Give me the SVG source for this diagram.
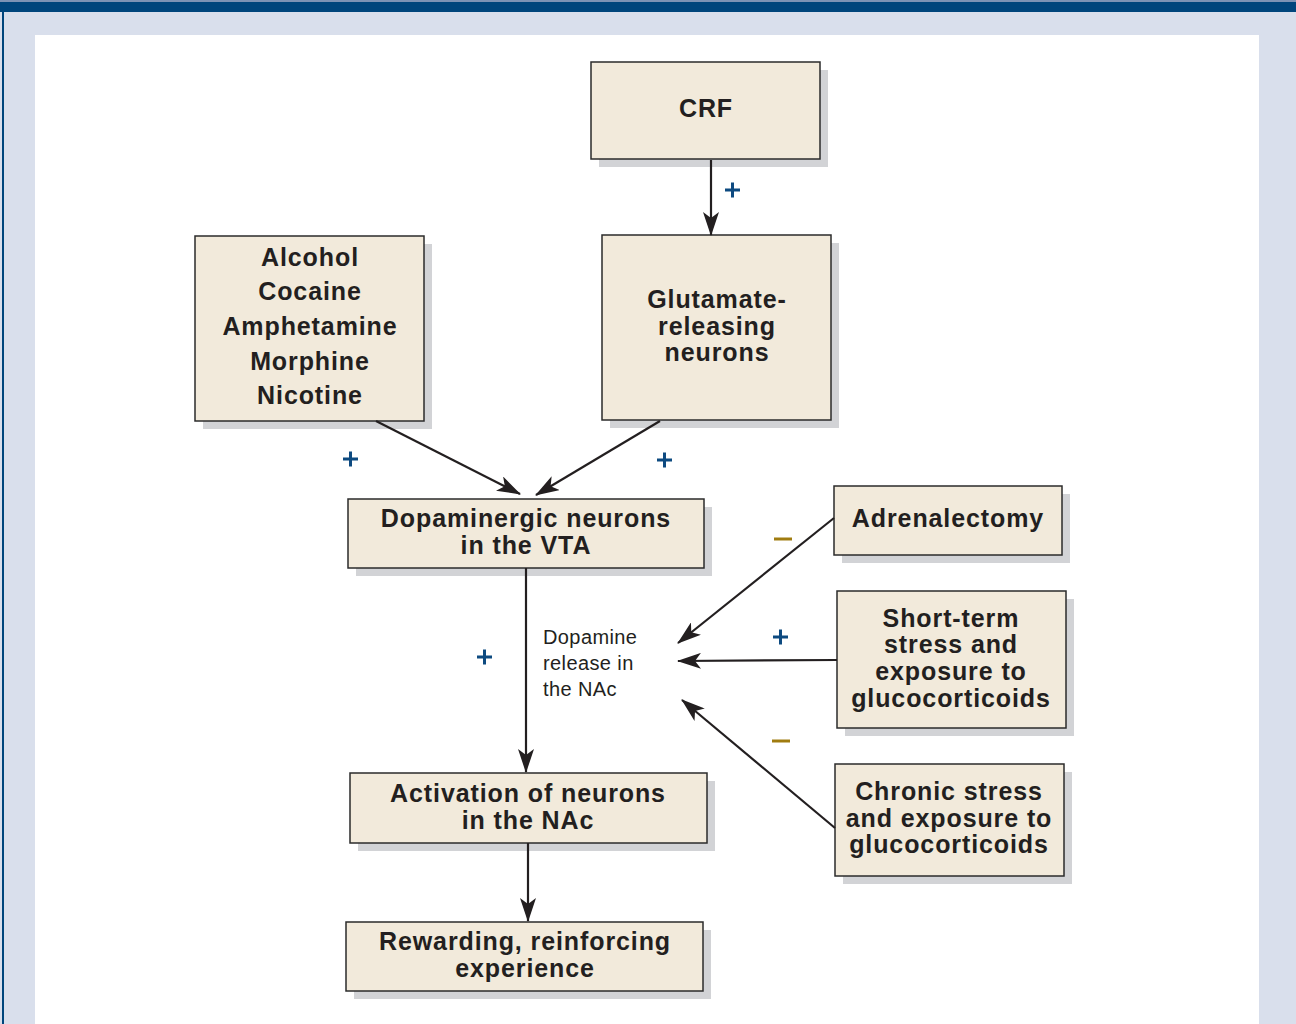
<svg xmlns="http://www.w3.org/2000/svg" width="1296" height="1024" viewBox="0 0 1296 1024">
<defs>
<style>
.box{fill:#f2eadb;stroke:#2b2b2b;stroke-width:1.5}
.sh{fill:#d2d3d6}
.t{font-family:"Liberation Sans",Arial,sans-serif;font-weight:bold;font-size:25px;letter-spacing:0.9px;fill:#231f20;text-anchor:middle}
.n{font-family:"Liberation Sans",Arial,sans-serif;font-size:20px;letter-spacing:0.4px;fill:#231f20}
.ln{stroke:#231f20;stroke-width:2.2;fill:none;marker-end:url(#ah)}
.plus{stroke:#0d4a80;stroke-width:3}
.minus{stroke:#a07c10;stroke-width:3}
</style>
<marker id="ah" markerUnits="userSpaceOnUse" markerWidth="24" markerHeight="16" viewBox="0 0 24 16" refX="23" refY="8" orient="auto">
<path d="M0,0 L24,8 L0,16 L6,8 z" fill="#231f20"/>
</marker>
</defs>
<rect x="0" y="0" width="1296" height="1024" fill="#d9dfec"/>
<rect x="0" y="0" width="1296" height="3" fill="#7d93b5"/>
<rect x="0" y="2" width="1296" height="10" fill="#00457c"/>
<rect x="2" y="2" width="2" height="1022" fill="#00457c"/>
<rect x="35" y="35" width="1224" height="989" fill="#ffffff"/>

<g id="crf">
<rect class="sh" x="599" y="70" width="229" height="97"/>
<rect class="box" x="591" y="62" width="229" height="97"/>
<text class="t" x="706" y="117">CRF</text>
</g>

<g id="drugs">
<rect class="sh" x="203" y="244" width="229" height="185"/>
<rect class="box" x="195" y="236" width="229" height="185"/>
<text class="t" x="310" y="266">Alcohol</text>
<text class="t" x="310" y="300">Cocaine</text>
<text class="t" x="310" y="335">Amphetamine</text>
<text class="t" x="310" y="370">Morphine</text>
<text class="t" x="310" y="404">Nicotine</text>
</g>

<g id="glutamate">
<rect class="sh" x="610" y="243" width="229" height="185"/>
<rect class="box" x="602" y="235" width="229" height="185"/>
<text class="t" x="717" y="308">Glutamate-</text>
<text class="t" x="717" y="335">releasing</text>
<text class="t" x="717" y="361">neurons</text>
</g>

<g id="vta">
<rect class="sh" x="356" y="507" width="356" height="69"/>
<rect class="box" x="348" y="499" width="356" height="69"/>
<text class="t" x="526" y="527">Dopaminergic neurons</text>
<text class="t" x="526" y="554">in the VTA</text>
</g>

<g id="adrenalectomy">
<rect class="sh" x="842" y="494" width="228" height="69"/>
<rect class="box" x="834" y="486" width="228" height="69"/>
<text class="t" x="948" y="527">Adrenalectomy</text>
</g>

<g id="shortterm">
<rect class="sh" x="845" y="599" width="229" height="137"/>
<rect class="box" x="837" y="591" width="229" height="137"/>
<text class="t" x="951" y="627">Short-term</text>
<text class="t" x="951" y="653">stress and</text>
<text class="t" x="951" y="680">exposure to</text>
<text class="t" x="951" y="707">glucocorticoids</text>
</g>

<g id="chronic">
<rect class="sh" x="843" y="772" width="229" height="112"/>
<rect class="box" x="835" y="764" width="229" height="112"/>
<text class="t" x="949" y="800">Chronic stress</text>
<text class="t" x="949" y="827">and exposure to</text>
<text class="t" x="949" y="853">glucocorticoids</text>
</g>

<g id="activation">
<rect class="sh" x="358" y="781" width="357" height="70"/>
<rect class="box" x="350" y="773" width="357" height="70"/>
<text class="t" x="528" y="802">Activation of neurons</text>
<text class="t" x="528" y="829">in the NAc</text>
</g>

<g id="rewarding">
<rect class="sh" x="354" y="930" width="357" height="69"/>
<rect class="box" x="346" y="922" width="357" height="69"/>
<text class="t" x="525" y="950">Rewarding, reinforcing</text>
<text class="t" x="525" y="977">experience</text>
</g>

<g id="connectors">
<line class="ln" x1="711" y1="160" x2="711" y2="235"/>
<line class="ln" x1="376" y1="421" x2="520" y2="494"/>
<line class="ln" x1="660" y1="421" x2="536" y2="495"/>
<line class="ln" x1="526" y1="568" x2="526" y2="772"/>
<line class="ln" x1="528" y1="843" x2="528" y2="921"/>
<line class="ln" x1="834" y1="518" x2="678" y2="643"/>
<line class="ln" x1="837" y1="660" x2="678" y2="661"/>
<line class="ln" x1="835" y1="828" x2="682" y2="700"/>
</g>

<g id="signs">
<path class="plus" d="M725,190 h15 M732.5,182.5 v15"/>
<path class="plus" d="M343,459 h15 M350.5,451.5 v15"/>
<path class="plus" d="M657,460 h15 M664.5,452.5 v15"/>
<path class="plus" d="M477,657 h15 M484.5,649.5 v15"/>
<path class="plus" d="M773,637 h15 M780.5,629.5 v15"/>
<path class="minus" d="M774,539 h18"/>
<path class="minus" d="M772,741 h18"/>
</g>

<g id="dopamine-label">
<text class="n" x="543" y="644">Dopamine</text>
<text class="n" x="543" y="670">release in</text>
<text class="n" x="543" y="696">the NAc</text>
</g>
</svg>
